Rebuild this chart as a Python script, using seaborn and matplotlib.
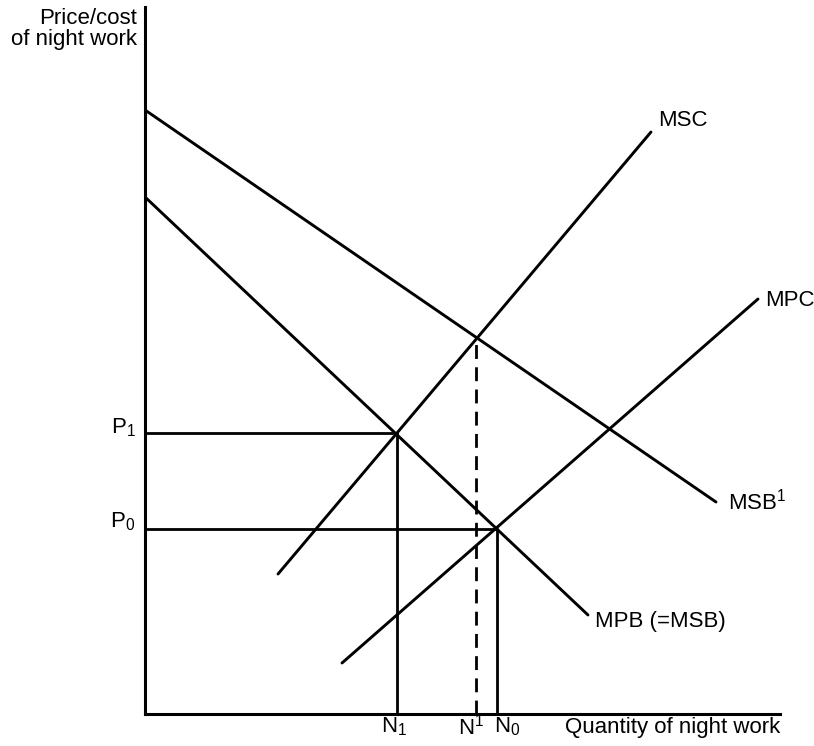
import matplotlib
matplotlib.use("Agg")
import matplotlib.pyplot as plt
import seaborn as sns
import pandas as pd

# ---- data (abstract price / quantity units) ----
curve_names = ["MSB$^1$", "MPB (=MSB)", "MSC", "MPC"]
curve_x0 = [0, 0, 133, 197]
curve_y0 = [604, 517, 140, 51]
curve_x1 = [571, 443, 506, 613]
curve_y1 = [212, 99, 582, 415]

price_labels = ["P$_1$", "P$_0$"]
price_values = [281, 185]
qty_labels = ["N$_1$", "N$_0$"]
qty_values = [252, 352]

social_qty_label = "N$^1$"
social_qty = 331
social_price = 375

sns.set_style("white")
plt.rcParams["font.family"] = ["Liberation Sans", "DejaVu Sans"]
plt.rcParams["mathtext.fontset"] = "custom"
plt.rcParams["mathtext.rm"] = "Liberation Sans"
plt.rcParams["mathtext.it"] = "Liberation Sans:italic"
plt.rcParams["mathtext.bf"] = "Liberation Sans:bold"
plt.rcParams["mathtext.default"] = "regular"

rows = []
for n, a, b, c, d in zip(curve_names, curve_x0, curve_y0, curve_x1, curve_y1):
    rows.append({"curve": n, "x": a, "y": b})
    rows.append({"curve": n, "x": c, "y": d})
df = pd.DataFrame(rows)

fig = plt.figure(figsize=(8.14, 7.46), dpi=100)
W, H = 814, 746
ax = fig.add_axes([145 / W, (H - 714) / H, (780 - 145) / W, (714 - 7) / H])

sns.lineplot(data=df, x="x", y="y", hue="curve",
             palette={n: "black" for n in curve_names},
             estimator=None, sort=False, legend=False, lw=2.1, ax=ax)

# price / quantity guide lines
guide_rows = []
for i, (p, q) in enumerate(zip(price_values, qty_values)):
    guide_rows += [{"g": f"h{i}", "x": 0, "y": p}, {"g": f"h{i}", "x": q, "y": p},
                   {"g": f"v{i}", "x": q, "y": 0}, {"g": f"v{i}", "x": q, "y": p}]
gdf = pd.DataFrame(guide_rows)
sns.lineplot(data=gdf, x="x", y="y", hue="g",
             palette={g: "black" for g in gdf["g"].unique()},
             estimator=None, sort=False, legend=False, lw=2.0, ax=ax)

ddf = pd.DataFrame({"x": [social_qty, social_qty], "y": [0, social_price]})
sns.lineplot(data=ddf, x="x", y="y", color="black", lw=2.0,
             estimator=None, sort=False, ax=ax, linestyle=(0, (5, 3)))

ax.set_xlim(0, 635)
ax.set_ylim(0, 707)
ax.set_xticks([])
ax.set_yticks([])
ax.set_xlabel("")
ax.set_ylabel("")
for s in ["top", "right"]:
    ax.spines[s].set_visible(False)
for s in ["left", "bottom"]:
    ax.spines[s].set_linewidth(2.2)
    ax.spines[s].set_color("black")

fs = 16
kw = dict(fontsize=fs, color="black", clip_on=False)
# curve labels
ax.text(513, 593, curve_names[2], ha="left", va="center", **kw)
ax.text(620, 414, curve_names[3], ha="left", va="center", **kw)
ax.text(583, 212, curve_names[0], ha="left", va="center", **kw)
ax.text(450, 92, curve_names[1], ha="left", va="center", **kw)

# price labels
ax.text(-9, 286, price_labels[0], ha="right", va="center", **kw)
ax.text(-10, 192, price_labels[1], ha="right", va="center", **kw)

# quantity labels
ax.text(249, -13, qty_labels[0], ha="center", va="center", **kw)
ax.text(326, -13, social_qty_label, ha="center", va="center", **kw)
ax.text(362, -13, qty_labels[1], ha="center", va="center", **kw)

ax.text(635, -13, "Quantity of night work", ha="right", va="center", **kw)
ax.text(-8, 685, "Price/cost\nof night work", ha="right", va="center",
        linespacing=1.0, **kw)

fig.savefig("out.png", dpi=100)
